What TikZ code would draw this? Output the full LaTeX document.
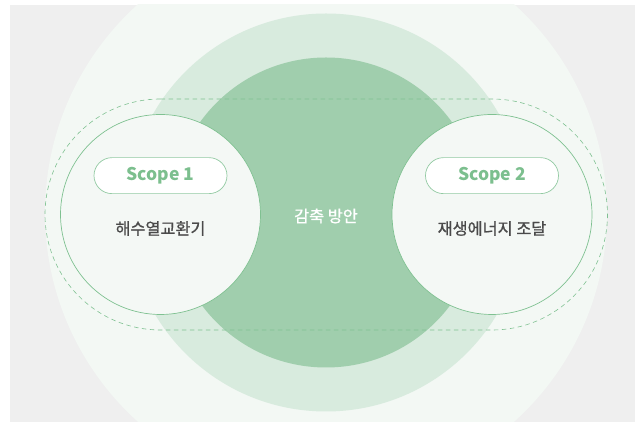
\documentclass[tikz,border=0pt]{standalone}
\usepackage{fontspec}
\newfontfamily\krfont{Noto Sans CJK KR}
\newfontfamily\krmed[FakeBold=0.9]{Noto Sans CJK KR}
\usepackage{tikz}
\usetikzlibrary{positioning}
\definecolor{pagegrey}{HTML}{EFEFEF}
\definecolor{ringpale}{HTML}{F3F8F4}
\definecolor{ringmid}{HTML}{D8EBDE}
\definecolor{ringcore}{HTML}{A0CEAD}
\definecolor{scopefill}{HTML}{F4F8F5}
\definecolor{scopestroke}{HTML}{7FC191}
\definecolor{scopetext}{HTML}{7CBF8E}
\definecolor{labgrey}{HTML}{4A4A4A}
\tikzset{
  ring/.style      = {circle, inner sep=0pt, draw=none},
  scopecirc/.style = {circle, inner sep=0pt, minimum size=200pt, fill=scopefill,
                      draw=scopestroke, line width=0.7pt},
  pill/.style      = {rounded corners=18pt, fill=white, draw=scopestroke!85,
                      line width=0.7pt, minimum width=133pt, minimum height=36pt,
                      inner sep=0pt, font=\krfont\bfseries\fontsize{17.5}{20}\selectfont,
                      text=scopetext},
  lbl/.style       = {font=\krmed\fontsize{16.3}{19}\selectfont, text=labgrey,
                      inner sep=0pt},
  dashring/.style  = {draw=scopestroke, dashed, dash pattern=on 4.5pt off 3.5pt,
                      line width=0.6pt},
}
\begin{document}
\begin{tikzpicture}[x=1pt,y=1pt]
  \useasboundingbox (0,0) rectangle (635,422);
  \fill[white] (0,0) rectangle (635,422);
  \fill[pagegrey] (10,0) rectangle (635,417);

  % ---------------- Rings ----------------
  \begin{scope}
    \clip (10,0) rectangle (635,417);
    \node[ring, fill=ringpale, minimum size=562pt] (outer) at (326,209) {};
  \end{scope}
  \node[ring, fill=ringmid,  minimum size=398pt] (mid)  at (326,209.5) {};
  \node[ring, fill=ringcore, minimum size=310pt] (core) at (326,209.5) {};
  \node[lbl, text=white] (goal) at (326,206) {감축 방안};

  % ---------------- Scopes ----------------
  \node[scopecirc] (lc) at (160.5,207.5) {};
  \node[scopecirc] (rc) at (492,207.5) {};
  \draw[dashring] ([yshift=115.5pt]lc.center) -- ([yshift=115.5pt]rc.center)
        arc[start angle=90, end angle=-90, radius=115.5pt]
        -- ([yshift=-115.5pt]lc.center)
        arc[start angle=270, end angle=90, radius=115.5pt] -- cycle;

  \node[pill, above=20.5pt of lc.center] (s1) {Scope 1};
  \node[pill, above=20.5pt of rc.center] (s2) {Scope 2};
  \node[lbl] (hx) at ([yshift=-14pt]lc.center) {해수열교환기};
  \node[lbl] (re) at ([yshift=-14pt]rc.center) {재생에너지 조달};
\end{tikzpicture}
\end{document}
